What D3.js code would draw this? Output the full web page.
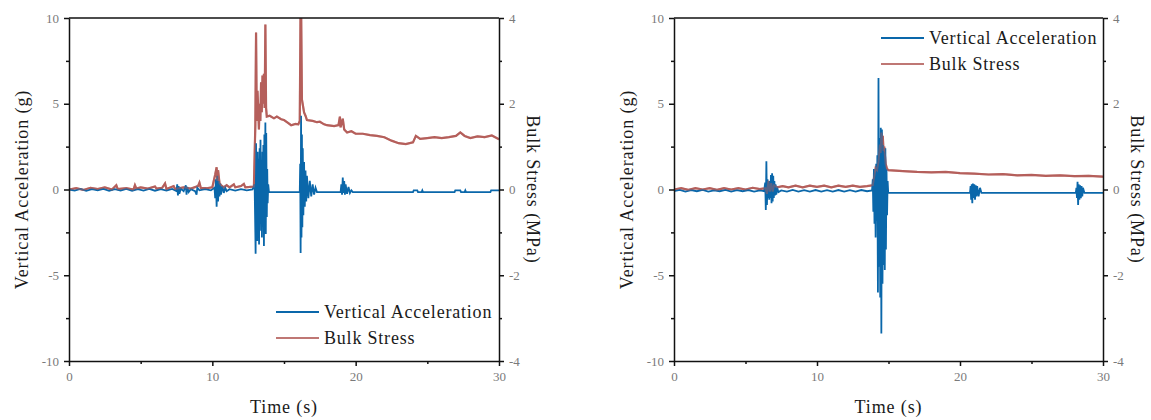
<!DOCTYPE html>
<html><head><meta charset="utf-8">
<script src="https://cdn.jsdelivr.net/npm/d3@7"></script>
<style>
body{margin:0;background:#fff}
svg text{font-family:"Liberation Serif","Tinos","Times New Roman","DejaVu Serif",serif !important}
</style>
</head><body>
<svg id="chart" width="1151" height="420"></svg>
<script>
// ---- tick values ----
const xTicks = [0, 10, 20, 30];
const xMinor = [5, 15, 25];
const accTicks = [-10, -5, 0, 5, 10];
const accMinor = [-7.5, -2.5, 2.5, 7.5];
const stressTicks = [-4, -2, 0, 2, 4];
const stressMinor = [-3, -1, 1, 3];
const seriesNames = ["Vertical Acceleration", "Bulk Stress"];

// ---- left panel: time (s), vertical acceleration (g) ----
const leftAccel = [[0,0],[0.4,-0.06],[0.8,0.03],[1.2,-0.08],[1.6,0.02],[2.0,-0.05],[2.4,0.03],[2.8,-0.08],[3.2,0.02],[3.6,-0.06],[4.0,0.03],[4.4,-0.08],[4.8,0.02],[5.2,-0.06],[5.6,0.03],[6.0,-0.07],[6.4,0.02],[6.8,-0.06],[7.2,0.03],[7.5,-0.1],[7.55,0.3],[7.6,-0.35],[7.65,0.2],[7.7,-0.25],[7.8,0.05],[8.0,-0.1],[8.15,0.25],[8.2,-0.3],[8.25,0.15],[8.35,-0.15],[8.5,0.02],[8.8,-0.1],[8.9,-0.3],[8.95,0.1],[9.1,-0.05],[9.5,0.02],[9.9,-0.05],[10.15,0.1],[10.2,-0.5],[10.25,0.6],[10.3,-1.0],[10.35,0.8],[10.4,-0.7],[10.45,0.5],[10.5,-0.4],[10.55,0.35],[10.6,-0.3],[10.7,0.2],[10.8,-0.2],[10.9,0.1],[11.0,-0.1],[11.2,0.02],[11.6,-0.06],[12.0,0.02],[12.4,-0.05],[12.8,0.0],[12.95,0.3],[13.0,-2.5],[13.02,-3.75],[13.05,2.7],[13.08,-2.0],[13.1,1.5],[13.13,-3.0],[13.16,2.2],[13.2,-2.6],[13.23,1.8],[13.26,-3.2],[13.3,2.4],[13.33,-2.0],[13.36,2.9],[13.4,-2.4],[13.43,1.6],[13.46,-2.8],[13.5,2.2],[13.53,-1.8],[13.56,2.6],[13.6,-3.3],[13.63,3.2],[13.66,-2.2],[13.7,3.9],[13.73,-2.6],[13.76,3.3],[13.8,-1.6],[13.83,1.2],[13.86,-0.8],[13.9,0.3],[13.95,-0.15],[16.1,-0.15],[16.13,1.5],[16.16,-3.7],[16.19,4.3],[16.22,-2.8],[16.25,3.2],[16.28,-2.2],[16.31,2.4],[16.35,-1.5],[16.4,1.6],[16.45,-1.0],[16.5,1.1],[16.55,-0.7],[16.6,0.8],[16.7,-0.5],[16.8,0.5],[16.9,-0.4],[17.0,0.3],[17.1,-0.3],[17.2,0.1],[17.3,-0.15],[18.95,-0.15],[19.0,0.3],[19.05,-0.3],[19.1,0.7],[19.15,-0.2],[19.2,0.5],[19.25,-0.3],[19.3,0.3],[19.4,-0.25],[19.5,0.15],[19.6,-0.2],[19.7,-0.05],[19.8,-0.15],[24.0,-0.15],[24.05,-0.05],[24.3,-0.05],[24.35,-0.15],[24.6,-0.15],[24.65,-0.05],[24.7,-0.15],[26.9,-0.15],[26.95,-0.05],[27.3,-0.05],[27.35,-0.15],[27.6,-0.15],[27.65,-0.05],[27.7,-0.15],[29.4,-0.15],[29.45,-0.05],[30,-0.05]];

// ---- left panel: time (s), bulk stress (MPa) ----
const leftStress = [[0,0],[0.5,0.03],[1,-0.01],[1.5,0.04],[2,0.01],[2.5,0.05],[3,0.0],[3.3,0.1],[3.4,0.01],[4,0.03],[4.5,0.0],[4.6,0.1],[4.7,0.02],[5,0.05],[5.5,0.02],[6,0.07],[6.1,0.02],[6.5,0.04],[6.7,0.14],[6.8,0.01],[7.3,0.08],[7.4,0.01],[8,0.05],[8.5,0.02],[9,0.08],[9.1,0.16],[9.2,0.03],[9.6,0.03],[10.0,0.05],[10.2,0.35],[10.3,0.52],[10.35,0.2],[10.4,0.45],[10.5,0.15],[10.6,0.1],[10.8,0.05],[11.0,0.1],[11.2,0.05],[11.5,0.12],[11.6,0.05],[12.0,0.08],[12.2,0.13],[12.3,0.05],[12.9,0.07],[13.0,1.5],[13.05,3.66],[13.1,1.6],[13.15,2.3],[13.2,1.9],[13.25,1.4],[13.3,2.0],[13.35,1.6],[13.4,2.5],[13.45,1.8],[13.5,2.66],[13.55,2.0],[13.6,2.7],[13.65,1.9],[13.7,3.85],[13.75,1.9],[13.8,1.7],[14.0,1.72],[14.3,1.66],[14.5,1.7],[14.8,1.64],[15.0,1.62],[15.3,1.55],[15.5,1.5],[15.8,1.53],[16.0,1.52],[16.1,1.6],[16.15,4.0],[16.2,4.0],[16.25,2.1],[16.3,2.0],[16.4,1.8],[16.5,1.72],[16.6,1.62],[17.0,1.6],[17.3,1.57],[17.5,1.58],[17.8,1.52],[18.0,1.5],[18.5,1.48],[18.8,1.5],[18.9,1.7],[18.95,1.45],[19.1,1.65],[19.2,1.4],[19.4,1.33],[19.7,1.36],[20.0,1.3],[20.5,1.3],[21.0,1.27],[21.5,1.25],[22.0,1.22],[22.5,1.14],[23.0,1.08],[23.5,1.06],[24.0,1.1],[24.2,1.25],[24.5,1.18],[25.0,1.2],[25.5,1.22],[26.0,1.2],[26.5,1.22],[27.0,1.25],[27.3,1.33],[27.6,1.25],[28.0,1.2],[28.5,1.24],[29.0,1.22],[29.5,1.26],[30.0,1.17]];

// ---- right panel: time (s), vertical acceleration (g) ----
const rightAccel = [[0,-0.1],[0.4,-0.02],[0.8,-0.12],[1.2,-0.04],[1.6,-0.1],[2.0,-0.02],[2.4,-0.12],[2.8,-0.05],[3.2,-0.1],[3.6,-0.02],[4.0,-0.12],[4.4,-0.04],[4.8,-0.1],[5.2,-0.03],[5.6,-0.12],[6.0,-0.05],[6.3,-0.1],[6.38,0.4],[6.42,-1.2],[6.46,1.65],[6.5,-0.9],[6.54,0.6],[6.58,-0.5],[6.62,0.4],[6.66,-0.6],[6.7,0.5],[6.74,-0.5],[6.78,0.85],[6.82,-0.8],[6.86,0.95],[6.9,-0.7],[6.94,0.8],[6.98,-0.5],[7.02,0.5],[7.06,-0.35],[7.1,0.3],[7.15,-0.3],[7.2,0.15],[7.3,-0.15],[7.5,-0.05],[7.9,-0.12],[8.3,-0.02],[8.7,-0.12],[9.1,-0.04],[9.5,-0.12],[9.9,-0.03],[10.3,-0.12],[10.7,-0.04],[11.1,-0.12],[11.5,-0.03],[11.9,-0.12],[12.3,-0.04],[12.7,-0.12],[13.1,-0.03],[13.5,-0.1],[13.85,-0.05],[13.9,0.6],[13.94,-1.3],[13.98,1.2],[14.02,-2.0],[14.06,1.0],[14.1,-2.8],[14.14,1.5],[14.18,-1.8],[14.22,2.0],[14.26,-6.0],[14.3,6.5],[14.34,-4.5],[14.38,3.0],[14.42,-6.3],[14.46,3.6],[14.5,-8.4],[14.54,3.5],[14.58,-5.5],[14.62,2.6],[14.66,-4.4],[14.7,2.2],[14.74,-4.7],[14.78,2.4],[14.82,-3.5],[14.86,1.2],[14.9,-1.5],[14.94,0.5],[14.98,-0.2],[20.7,-0.2],[20.74,0.2],[20.78,-0.6],[20.82,0.3],[20.86,-0.8],[20.9,0.35],[20.95,-0.5],[21.0,0.3],[21.05,-0.6],[21.1,0.25],[21.15,-0.4],[21.2,0.2],[21.3,-0.4],[21.4,0.1],[21.5,-0.2],[28.1,-0.2],[28.14,0.1],[28.18,-0.5],[28.22,0.45],[28.26,-0.9],[28.3,0.3],[28.35,-0.6],[28.4,0.25],[28.45,-0.5],[28.5,0.2],[28.55,-0.4],[28.6,0.1],[28.7,-0.2],[30,-0.2]];

// ---- right panel: time (s), bulk stress (MPa) ----
const rightStress = [[0,0.0],[0.5,0.03],[1.0,-0.01],[1.5,0.03],[2.0,0.0],[2.5,0.03],[3.0,-0.01],[3.5,0.03],[4.0,0.0],[4.5,0.03],[5.0,0.0],[5.5,0.04],[6.0,0.01],[6.4,0.03],[6.5,-0.1],[6.6,0.2],[6.7,-0.05],[6.8,0.15],[6.9,-0.05],[7.0,0.1],[7.2,0.05],[7.6,0.08],[8.0,0.05],[8.5,0.09],[9.0,0.05],[9.5,0.09],[10,0.06],[10.5,0.09],[11,0.05],[11.5,0.09],[12,0.06],[12.5,0.09],[13,0.06],[13.5,0.08],[13.9,0.1],[14.0,0.3],[14.1,0.5],[14.2,0.45],[14.3,0.65],[14.4,1.05],[14.45,0.85],[14.5,1.33],[14.55,1.1],[14.6,1.25],[14.65,0.9],[14.7,1.0],[14.8,0.6],[14.9,0.48],[15.0,0.45],[16.0,0.43],[17.0,0.41],[18.0,0.4],[19.0,0.41],[20.0,0.38],[21.0,0.37],[22.0,0.35],[23.0,0.36],[24.0,0.33],[25.0,0.34],[26.0,0.32],[27.0,0.33],[28.0,0.31],[29.0,0.32],[30,0.3]];

const BLUE = "#0a67aa", RED = "#b5605c";
const FONT = '"Liberation Serif","Tinos","Times New Roman","DejaVu Serif",serif';
const svg = d3.select("#chart");
const Y0 = 18, Y1 = 361;
const fmt = v => String(v); // hyphen-minus like the original

function panel(id, x0, x1, acc, stress, legendPos) {
  const g = svg.append("g").attr("font-family", FONT);
  const x = d3.scaleLinear().domain([0, 30]).range([x0, x1]);
  const yA = d3.scaleLinear().domain([-10, 10]).range([Y1, Y0]);
  const yS = d3.scaleLinear().domain([-4, 4]).range([Y1, Y0]);

  g.append("clipPath").attr("id", "clip" + id).append("rect")
    .attr("x", x0).attr("y", Y0).attr("width", x1 - x0).attr("height", Y1 - Y0);
  const plot = g.append("g").attr("clip-path", `url(#clip${id})`);
  const lineA = d3.line().x(d => x(d[0])).y(d => yA(d[1]));
  const lineS = d3.line().x(d => x(d[0])).y(d => yS(d[1]));
  plot.append("path").datum(stress).attr("d", lineS).attr("fill", "none")
    .attr("stroke", RED).attr("stroke-width", 2.2);
  plot.append("path").datum(acc).attr("d", lineA).attr("fill", "none")
    .attr("stroke", BLUE).attr("stroke-width", 1.8);
  plot.append("path").datum(stress).attr("d", lineS).attr("fill", "none")
    .attr("stroke", RED).attr("stroke-width", 2).attr("opacity", 0.45);

  // frame
  g.append("line").attr("x1", x0).attr("x2", x1).attr("y1", Y0).attr("y2", Y0)
    .attr("stroke", "#111").attr("stroke-width", 1.5);

  function styleAxis(sel) {
    sel.attr("font-family", FONT);
    sel.select(".domain").attr("stroke", "#111").attr("stroke-width", 1.5);
    sel.selectAll(".tick line").attr("stroke", "#111").attr("stroke-width", 1.5);
    sel.selectAll(".tick text").attr("fill", "#7a7a7a").attr("font-size", 13)
      .attr("font-family", FONT);
  }
  const ax = g.append("g").attr("transform", `translate(0,${Y1})`)
    .call(d3.axisBottom(x).tickValues(xTicks).tickFormat(fmt).tickSize(5).tickSizeOuter(0).tickPadding(6));
  styleAxis(ax);
  const axm = g.append("g").attr("transform", `translate(0,${Y1})`)
    .call(d3.axisBottom(x).tickValues(xMinor).tickSize(3).tickFormat(""));
  styleAxis(axm); axm.select(".domain").remove();

  const ayl = g.append("g").attr("transform", `translate(${x0},0)`)
    .call(d3.axisLeft(yA).tickValues(accTicks).tickFormat(fmt).tickSize(5).tickSizeOuter(0).tickPadding(5));
  styleAxis(ayl);
  const aylm = g.append("g").attr("transform", `translate(${x0},0)`)
    .call(d3.axisLeft(yA).tickValues(accMinor).tickSize(3).tickFormat(""));
  styleAxis(aylm); aylm.select(".domain").remove();

  const ayr = g.append("g").attr("transform", `translate(${x1},0)`)
    .call(d3.axisRight(yS).tickValues(stressTicks).tickFormat(fmt).tickSize(5).tickSizeOuter(0).tickPadding(5));
  styleAxis(ayr);
  const ayrm = g.append("g").attr("transform", `translate(${x1},0)`)
    .call(d3.axisRight(yS).tickValues(stressMinor).tickSize(3).tickFormat(""));
  styleAxis(ayrm); ayrm.select(".domain").remove();

  // titles
  const tStyle = s => s.attr("fill", "#1a1a1a").attr("font-size", 18)
    .attr("font-family", FONT).style("letter-spacing", "0.9px");
  g.append("text").attr("x", (x0 + x1) / 2).attr("y", 413).attr("text-anchor", "middle")
    .text("Time (s)").call(tStyle);
  g.append("text").attr("transform", `translate(${x0 - 41},${(Y0 + Y1) / 2}) rotate(-90)`)
    .attr("text-anchor", "middle").text("Vertical Acceleration (g)").call(tStyle);
  g.append("text").attr("transform", `translate(${x1 + 28},${(Y0 + Y1) / 2}) rotate(90)`)
    .attr("text-anchor", "middle").text("Bulk Stress (MPa)").call(tStyle);

  // legend
  const lg = g.append("g");
  [BLUE, RED].forEach((c, i) => {
    const yy = legendPos.y + i * 26;
    lg.append("line").attr("x1", legendPos.x).attr("x2", legendPos.x + 43)
      .attr("y1", yy).attr("y2", yy).attr("stroke", c).attr("stroke-width", 2)
      .attr("opacity", i === 1 ? 0.85 : 1);
    lg.append("text").attr("x", legendPos.x + 48).attr("y", yy + 5.5)
      .attr("fill", "#1a1a1a").attr("font-size", 18).attr("font-family", FONT)
      .style("letter-spacing", "0.8px").text(seriesNames[i]);
  });
}

panel("L", 69, 499, leftAccel, leftStress, {x: 276, y: 312});
panel("R", 674, 1103, rightAccel, rightStress, {x: 881, y: 38});
</script>
</body></html>
